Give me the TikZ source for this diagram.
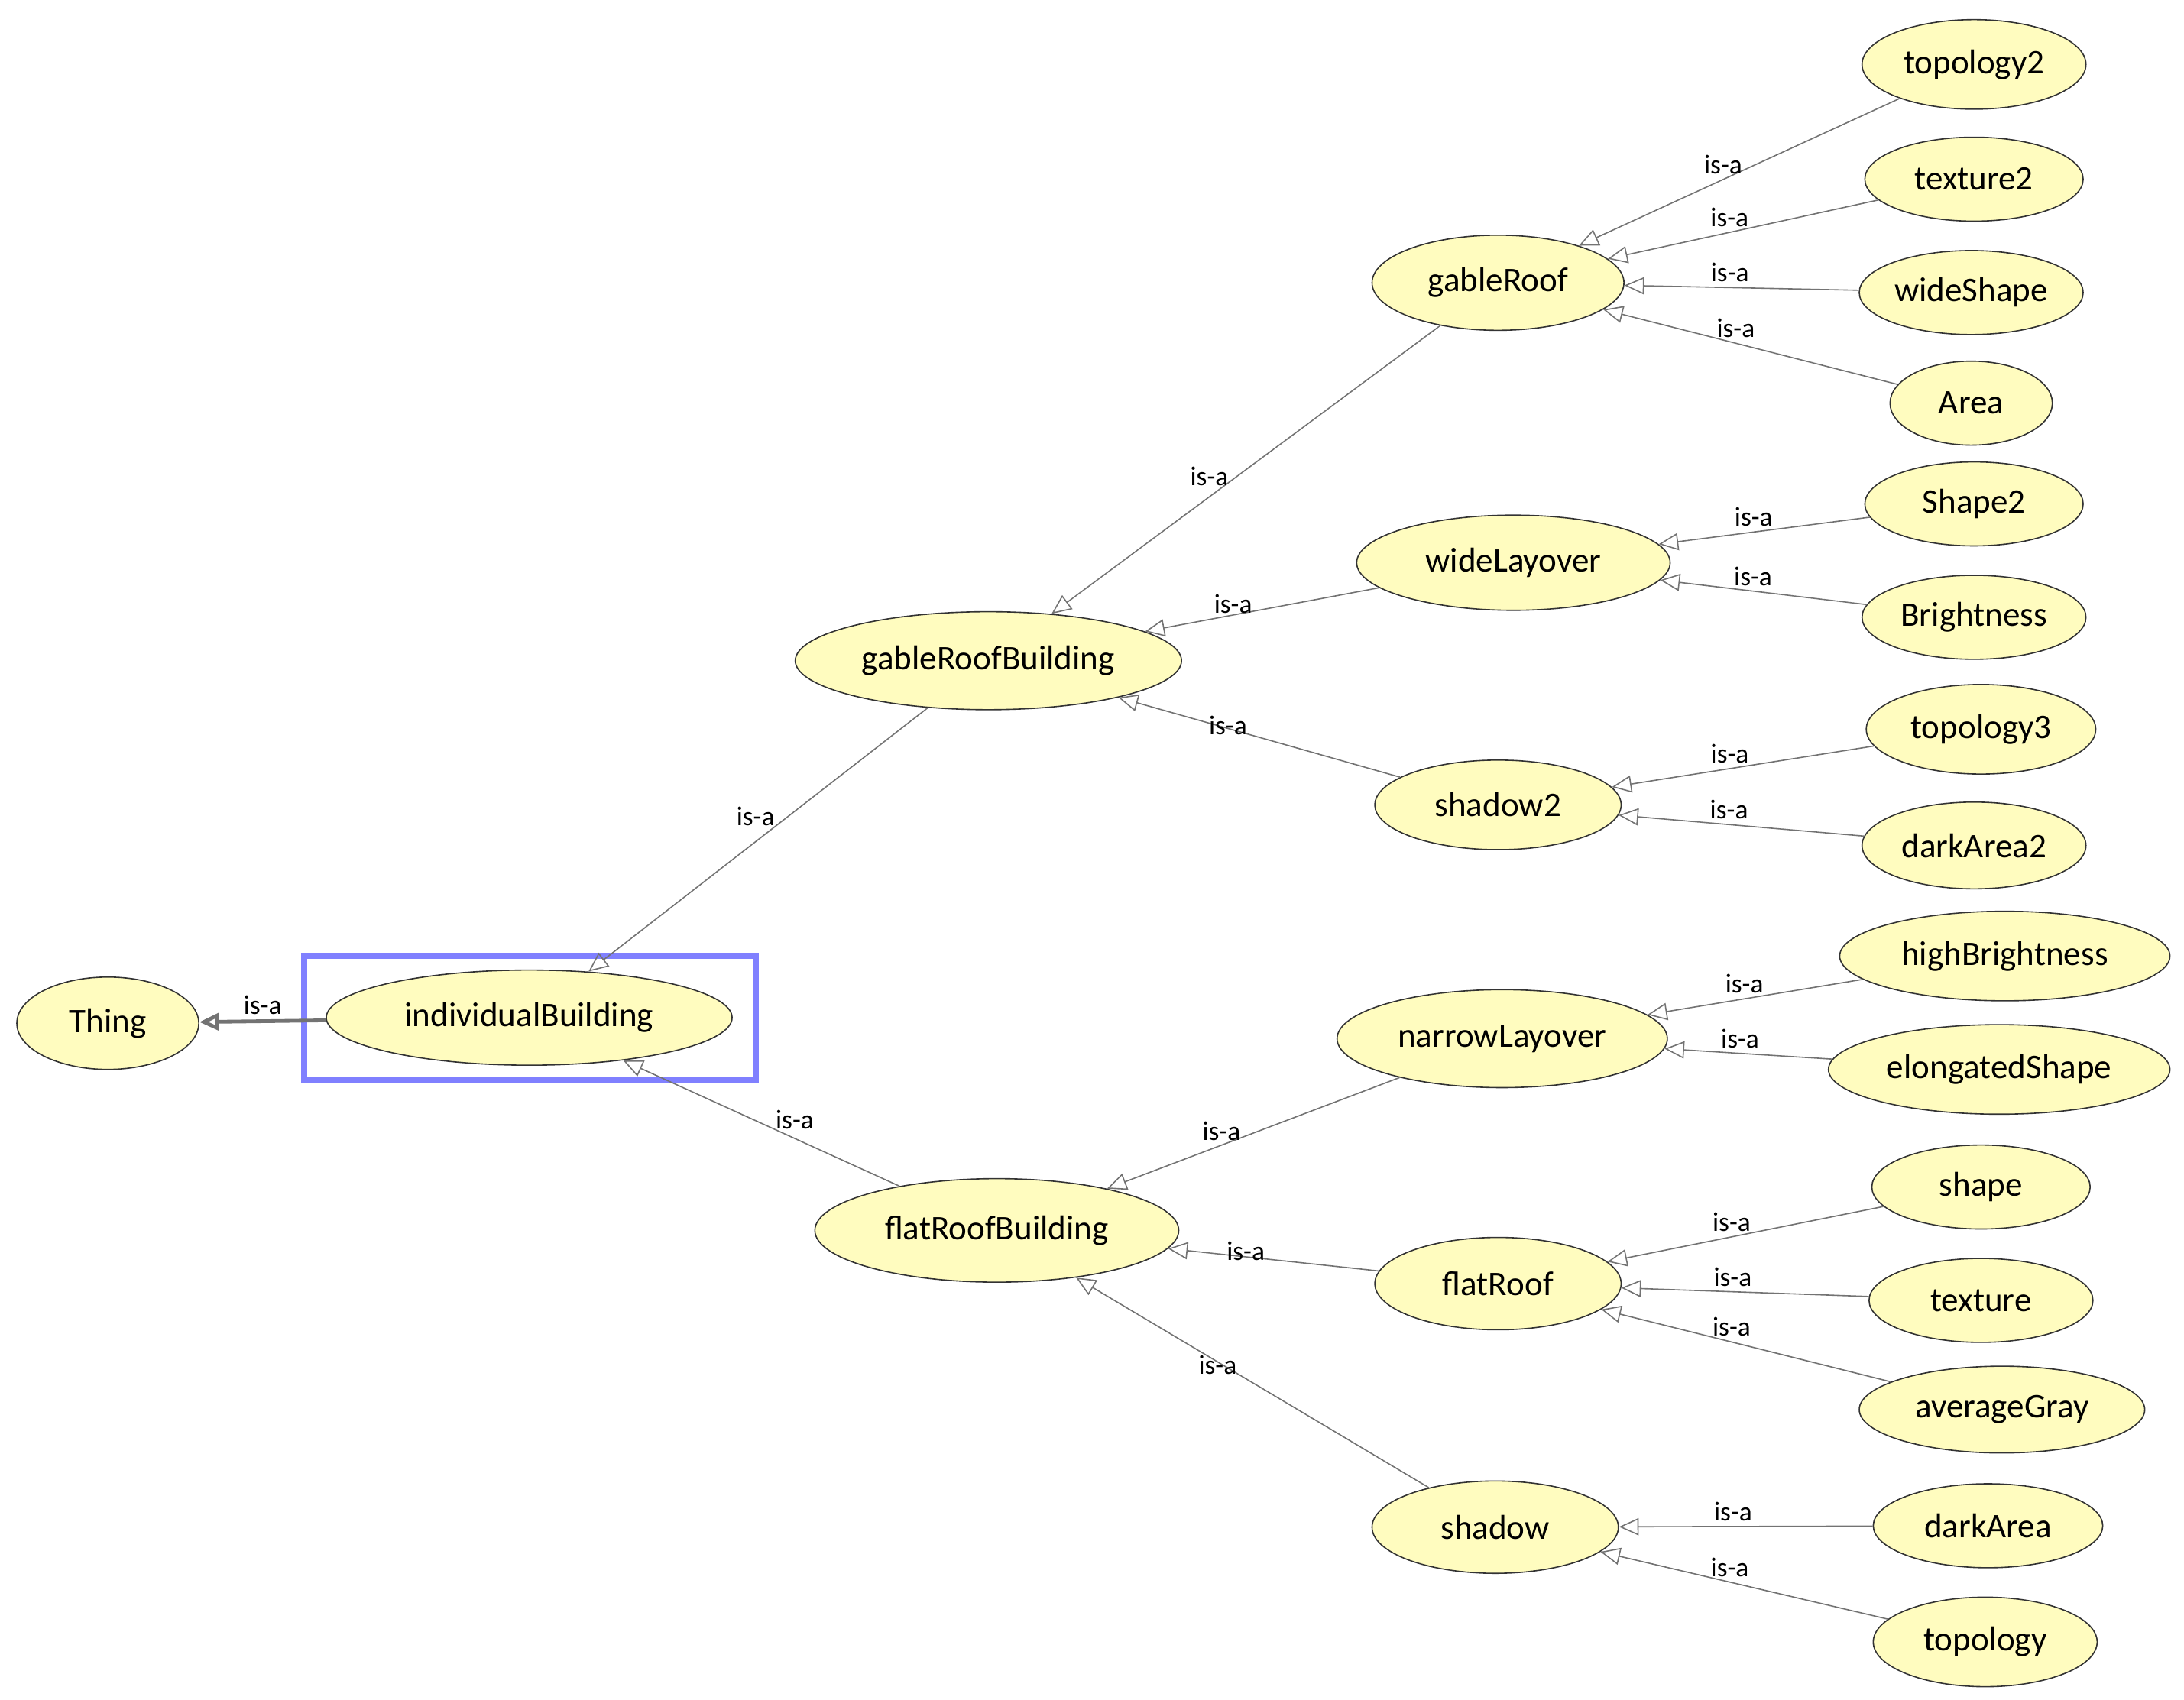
\documentclass[tikz,border=0pt]{standalone}
\usepackage{fontspec}
\setmainfont{Carlito}
\usetikzlibrary{arrows.meta,shapes.geometric}
\begin{document}
\begin{tikzpicture}[x=0.02cm,y=-0.02cm,
  cls/.style={ellipse,draw=black!80,fill=yellow!25,line width=0.5pt,inner sep=0pt,font=\fontsize{14}{16}\selectfont},
  isa/.style={draw=black!55,line width=0.5pt,-{Triangle[open,length=8pt,width=7pt]}},
  lbl/.style={font=\fontsize{11}{13}\selectfont,inner sep=2pt}]
\useasboundingbox (0,0) rectangle (1560,1214);
\newcommand\cnode[5]{\node[cls,minimum width=#4*0.04cm,minimum height=#5*0.04cm] (#1) at #2 {#3};}
\cnode{thing}{(77,731)}{Thing}{65}{33}
\cnode{ib}{(378,727)}{individualBuilding}{145}{34}
\cnode{grb}{(706,472)}{gableRoofBuilding}{138}{35}
\cnode{frb}{(712,879)}{flatRoofBuilding}{130}{37}
\cnode{gr}{(1070,202)}{gableRoof}{90}{34}
\cnode{wl}{(1081,402)}{wideLayover}{112}{34}
\cnode{sh2}{(1070,575)}{shadow2}{88}{32}
\cnode{nl}{(1073,742)}{narrowLayover}{118}{35}
\cnode{fr}{(1070,917)}{flatRoof}{88}{33}
\cnode{sh}{(1068,1091)}{shadow}{88}{33}
\cnode{t2}{(1410,46)}{topology2}{80}{32}
\cnode{tx2}{(1410,128)}{texture2}{78}{30}
\cnode{ws}{(1408,209)}{wideShape}{80}{30}
\cnode{ar}{(1408,288)}{Area}{58}{30}
\cnode{s2}{(1410,360)}{Shape2}{78}{30}
\cnode{br}{(1410,441)}{Brightness}{80}{30}
\cnode{t3}{(1415,521)}{topology3}{82}{32}
\cnode{da2}{(1410,604)}{darkArea2}{80}{31}
\cnode{hb}{(1432,683)}{highBrightness}{118}{32}
\cnode{es}{(1428,764)}{elongatedShape}{122}{32}
\cnode{sp}{(1415,848)}{shape}{78}{30}
\cnode{tx}{(1415,929)}{texture}{80}{30}
\cnode{ag}{(1430,1007)}{averageGray}{102}{31}
\cnode{da}{(1420,1090)}{darkArea}{82}{30}
\cnode{tp}{(1418,1173)}{topology}{80}{32}
\node[draw=blue!50,line width=2.5pt,minimum width=323*0.02cm,minimum height=89*0.02cm] (sel) at (378.5,727.5) {};
\draw[isa,line width=1.5pt] (ib) -- node[lbl,above] {is-a} (thing);
\draw[isa] (grb) -- node[lbl,pos=0.45,above left=-2pt] {is-a} (ib);
\draw[isa] (frb) -- node[lbl,pos=0.45,above right=-2pt] {is-a} (ib);
\foreach \c/\p in {gr/grb,wl/grb,sh2/grb,nl/frb,fr/frb,sh/frb}
  \draw[isa] (\c) -- node[lbl,above left=-3pt,pos=0.55] {is-a} (\p);
\foreach \c/\p in {t2/gr,tx2/gr,ws/gr,ar/gr,s2/wl,br/wl,t3/sh2,da2/sh2,hb/nl,es/nl,sp/fr,tx/fr,ag/fr,da/sh,tp/sh}
  \draw[isa] (\c) -- node[lbl,above,pos=0.55] {is-a} (\p);
\end{tikzpicture}
\end{document}
